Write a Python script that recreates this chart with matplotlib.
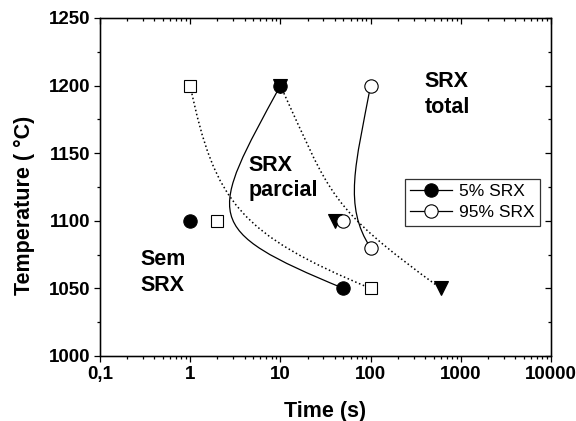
import matplotlib

matplotlib.use("Agg")
import matplotlib.pyplot as plt
from matplotlib.lines import Line2D
from matplotlib.patches import PathPatch
from matplotlib.path import Path
from matplotlib.ticker import FixedLocator, LogLocator, MultipleLocator, NullFormatter

plt.rcParams["font.family"] = ["Liberation Sans", "DejaVu Sans"]

# measured points, time in s, temperature in degC
srx5_time = [10, 1, 50]
srx5_temp = [1200, 1100, 1050]
srx95_time = [100, 50, 100]
srx95_temp = [1200, 1100, 1080]
square_time = [1, 2, 100]
square_temp = [1200, 1100, 1050]
triangle_time = [10, 40, 600]
triangle_temp = [1200, 1100, 1050]

# bezier guide points for the hand-fitted curves (start, ctrl, ctrl, end)
srx5_curve_time = [10, 1.58, 1.27, 50]
srx5_curve_temp = [1200, 1102, 1094, 1050]
srx95_curve_time = [100, 68.5, 49.5, 100]
srx95_curve_temp = [1200, 1142, 1111, 1080]
square_curve_time = [1, 1.87, 3.65, 100]
square_curve_temp = [1200, 1113, 1090, 1050]
triangle_curve_time = [10, 36.5, 32.8, 600]
triangle_curve_temp = [1200, 1119, 1111, 1050]

x_ticks = [0.1, 1, 10, 100, 1000, 10000]
x_tick_labels = ["0,1", "1", "10", "100", "1000", "10000"]
y_ticks = [1000, 1050, 1100, 1150, 1200, 1250]

regions = [
    ("SRX\ntotal", 398, 1211),
    ("SRX\nparcial", 4.4, 1149),
    ("Sem\nSRX", 0.278, 1079),
]


def add_curve(ax, xs, ys, style, lw):
    codes = [Path.MOVETO, Path.CURVE4, Path.CURVE4, Path.CURVE4]
    path = Path(list(zip(xs, ys)), codes)
    ax.add_patch(PathPatch(path, fill=False, edgecolor="black", lw=lw,
                           linestyle=style, transform=ax.transData, zorder=1))


fig = plt.figure(figsize=(5.76, 4.21), dpi=100)
ax = fig.add_axes([100 / 576, 1 - 356 / 421, 451 / 576, 338 / 421])
ax.set_xscale("log")
ax.set_xlim(0.1, 10000)
ax.set_ylim(1000, 1250)

dotted = (0, (1, 1.7))
add_curve(ax, square_curve_time, square_curve_temp, dotted, 1.1)
add_curve(ax, triangle_curve_time, triangle_curve_temp, dotted, 1.1)
add_curve(ax, srx5_curve_time, srx5_curve_temp, "-", 0.9)
add_curve(ax, srx95_curve_time, srx95_curve_temp, "-", 0.9)

ax.plot(square_time, square_temp, ls="none", marker="s", ms=8, mfc="white",
        mec="black", mew=0.8, zorder=3)
ax.plot(triangle_time, triangle_temp, ls="none", marker="v", ms=10.5, mfc="black",
        mec="black", mew=0.8, zorder=3)
ax.plot(srx5_time, srx5_temp, ls="none", marker="o", ms=9.6, mfc="black",
        mec="black", mew=0.8, zorder=4)
ax.plot(srx95_time, srx95_temp, ls="none", marker="o", ms=9.6, mfc="white",
        mec="black", mew=0.8, zorder=4)

for text, x, y in regions:
    ax.text(x, y, text, ha="left", va="top", fontsize=15.5, fontweight="bold",
            linespacing=1.3)

handles = [
    Line2D([], [], color="black", lw=0.9, marker="o", ms=9.6, mfc="black",
           mec="black", mew=0.8),
    Line2D([], [], color="black", lw=0.9, marker="o", ms=9.6, mfc="white",
           mec="black", mew=0.8),
]
leg = ax.legend(handles, ["5% SRX", "95% SRX"], loc="upper left",
                bbox_to_anchor=(0.676, 0.524), borderaxespad=0, fontsize=12.5,
                frameon=True, fancybox=False, handlelength=2.4, handletextpad=0.4,
                labelspacing=0.35, borderpad=0.3)
leg.get_frame().set_edgecolor("black")
leg.get_frame().set_linewidth(0.9)

ax.set_xticks(x_ticks)
ax.set_xticklabels(x_tick_labels)
ax.xaxis.set_minor_locator(LogLocator(base=10, subs=range(2, 10), numticks=20))
ax.xaxis.set_minor_formatter(NullFormatter())
ax.set_yticks(y_ticks)
ax.yaxis.set_minor_locator(MultipleLocator(25))
ax.tick_params(which="major", direction="out", length=4, width=0.9,
               labelsize=13.5, pad=3)
ax.tick_params(which="minor", direction="out", length=2.2, width=0.9)
for lab in ax.get_xticklabels() + ax.get_yticklabels():
    lab.set_fontweight("bold")

for side in ax.spines.values():
    side.set_linewidth(1.0)

# inward ticks on the top and right edges
top = ax.twiny()
top.set_xscale("log")
top.set_xlim(ax.get_xlim())
top.xaxis.set_major_locator(FixedLocator(x_ticks))
top.xaxis.set_minor_locator(LogLocator(base=10, subs=range(2, 10), numticks=20))
top.tick_params(axis="x", which="both", direction="in", labeltop=False, width=0.9)
top.tick_params(axis="x", which="major", length=4)
top.tick_params(axis="x", which="minor", length=2.2)
right = ax.twinx()
right.set_ylim(ax.get_ylim())
right.yaxis.set_major_locator(FixedLocator(y_ticks))
right.yaxis.set_minor_locator(MultipleLocator(25))
right.tick_params(axis="y", which="both", direction="in", labelright=False, width=0.9)
right.tick_params(axis="y", which="major", length=4)
right.tick_params(axis="y", which="minor", length=2.2)

ax.set_xlabel("Time (s)", fontsize=15.5, fontweight="bold", labelpad=13)
ax.set_ylabel("Temperature ( °C)", fontsize=15.5, fontweight="bold")
ax.yaxis.set_label_coords(-0.144, 0.447)

fig.savefig("out.png", dpi=100)
